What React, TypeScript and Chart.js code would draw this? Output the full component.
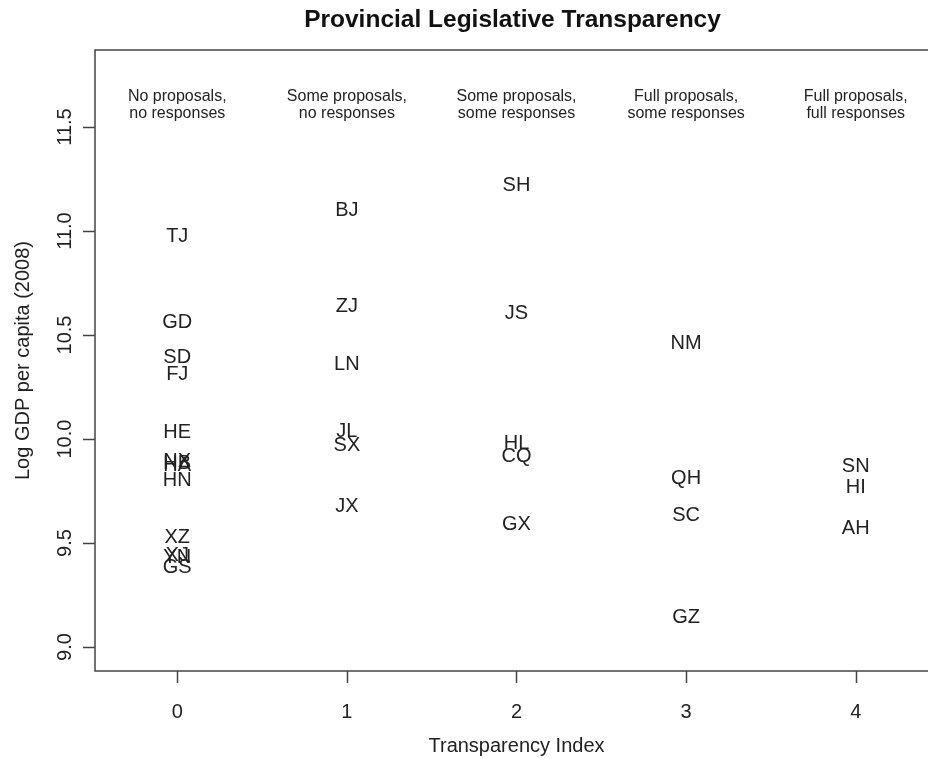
import React, { useEffect, useRef } from "react";
import { Chart, registerables } from "chart.js";

Chart.register(...registerables);

const provinces = ["TJ","GD","SD","FJ","HE","NX","HB","HA","HN","XZ","XJ","YN","GS",
  "BJ","ZJ","LN","JL","SX","JX",
  "SH","JS","HL","CQ","GX",
  "NM","QH","SC","GZ",
  "SN","HI","AH"];
const transparency = [0,0,0,0,0,0,0,0,0,0,0,0,0,
  1,1,1,1,1,1,
  2,2,2,2,2,
  3,3,3,3,
  4,4,4];
const logGdp = [10.98,10.566,10.401,10.32,10.039,9.90,9.89,9.88,9.81,9.535,9.45,9.44,9.393,
  11.109,10.644,10.368,10.043,9.979,9.683,
  11.226,10.61,9.987,9.923,9.596,
  10.468,9.82,9.643,9.148,
  9.874,9.776,9.577];
const xTicks = [0,1,2,3,4];
const yTicks = [9.0,9.5,10.0,10.5,11.0,11.5];
const yTickLabels = ["9.0","9.5","10.0","10.5","11.0","11.5"];
const headerLine1 = ["No proposals,","Some proposals,","Some proposals,","Full proposals,","Full proposals,"];
const headerLine2 = ["no responses","no responses","some responses","some responses","full responses"];
const title = "Provincial Legislative Transparency";
const xTitle = "Transparency Index";
const yTitle = "Log GDP per capita (2008)";

const FONT = '"Liberation Sans", Arial, Helvetica, sans-serif';
const INK = "#222";

const rPlot = {
  id: "rPlot",
  afterDraw(chart: any) {
    const ctx = chart.ctx;
    const a = chart.chartArea;
    const xs = chart.scales.x;
    const ys = chart.scales.y;
    ctx.save();
    // box
    ctx.strokeStyle = "#444";
    ctx.lineWidth = 1.5;
    ctx.strokeRect(a.left, a.top, a.right - a.left, a.bottom - a.top);
    // ticks
    ctx.beginPath();
    xTicks.forEach((v) => {
      const px = Math.round(xs.getPixelForValue(v)) + 0.5;
      ctx.moveTo(px, a.bottom);
      ctx.lineTo(px, a.bottom + 12);
    });
    yTicks.forEach((v) => {
      const py = Math.round(ys.getPixelForValue(v)) + 0.5;
      ctx.moveTo(a.left - 12, py);
      ctx.lineTo(a.left, py);
    });
    ctx.stroke();

    ctx.fillStyle = INK;
    // x tick labels
    ctx.font = `20px ${FONT}`;
    ctx.textAlign = "center";
    ctx.textBaseline = "alphabetic";
    xTicks.forEach((v) => {
      ctx.fillText(String(v), xs.getPixelForValue(v), 718);
    });
    // y tick labels rotated
    yTicks.forEach((v, i) => {
      ctx.save();
      ctx.translate(71, ys.getPixelForValue(v));
      ctx.rotate(-Math.PI / 2);
      ctx.fillText(yTickLabels[i], 0, 0);
      ctx.restore();
    });
    // axis titles
    const cx = (a.left + a.right) / 2;
    const cy = (a.top + a.bottom) / 2;
    ctx.fillText(xTitle, cx, 752);
    ctx.save();
    ctx.translate(29, cy);
    ctx.rotate(-Math.PI / 2);
    ctx.fillText(yTitle, 0, 0);
    ctx.restore();
    // main title
    ctx.fillStyle = "#111";
    ctx.font = `bold 24.5px ${FONT}`;
    ctx.fillText(title, cx - 4, 27);
    // headers
    ctx.fillStyle = INK;
    ctx.font = `16px ${FONT}`;
    xTicks.forEach((v, i) => {
      const px = xs.getPixelForValue(v);
      ctx.fillText(headerLine1[i], px, 101);
      ctx.fillText(headerLine2[i], px, 118);
    });
    // province labels
    ctx.font = `20px ${FONT}`;
    const meta = chart.getDatasetMeta(0);
    meta.data.forEach((pt: any, i: number) => {
      ctx.fillText(provinces[i], pt.x, pt.y + 7.2);
    });
    ctx.restore();
  },
};

export default function App() {
  const ref = useRef<HTMLCanvasElement | null>(null);
  useEffect(() => {
    if (!ref.current) return;
    const chart = new Chart(ref.current, {
      type: "scatter",
      data: {
        datasets: [
          {
            data: provinces.map((_, i) => ({ x: transparency[i], y: logGdp[i] })),
            pointRadius: 0,
            pointHoverRadius: 0,
          },
        ],
      },
      options: {
        animation: false,
        responsive: false,
        devicePixelRatio: 1,
        layout: { padding: { left: 95, top: 50, right: 8, bottom: 87 } },
        plugins: { legend: { display: false }, tooltip: { enabled: false } },
        events: [],
        scales: {
          x: { type: "linear", min: -0.485, max: 4.485, display: false },
          y: { type: "linear", min: 8.885, max: 11.87, display: false },
        },
      },
      plugins: [rPlot],
    });
    return () => chart.destroy();
  }, []);
  return (
    <div style={{ position: "fixed", left: 0, top: 0, width: 928, height: 758, overflow: "hidden", background: "#fff" }}>
      <canvas ref={ref} width={946} height={758} style={{ display: "block", width: 946, height: 758 }} />
    </div>
  );
}
